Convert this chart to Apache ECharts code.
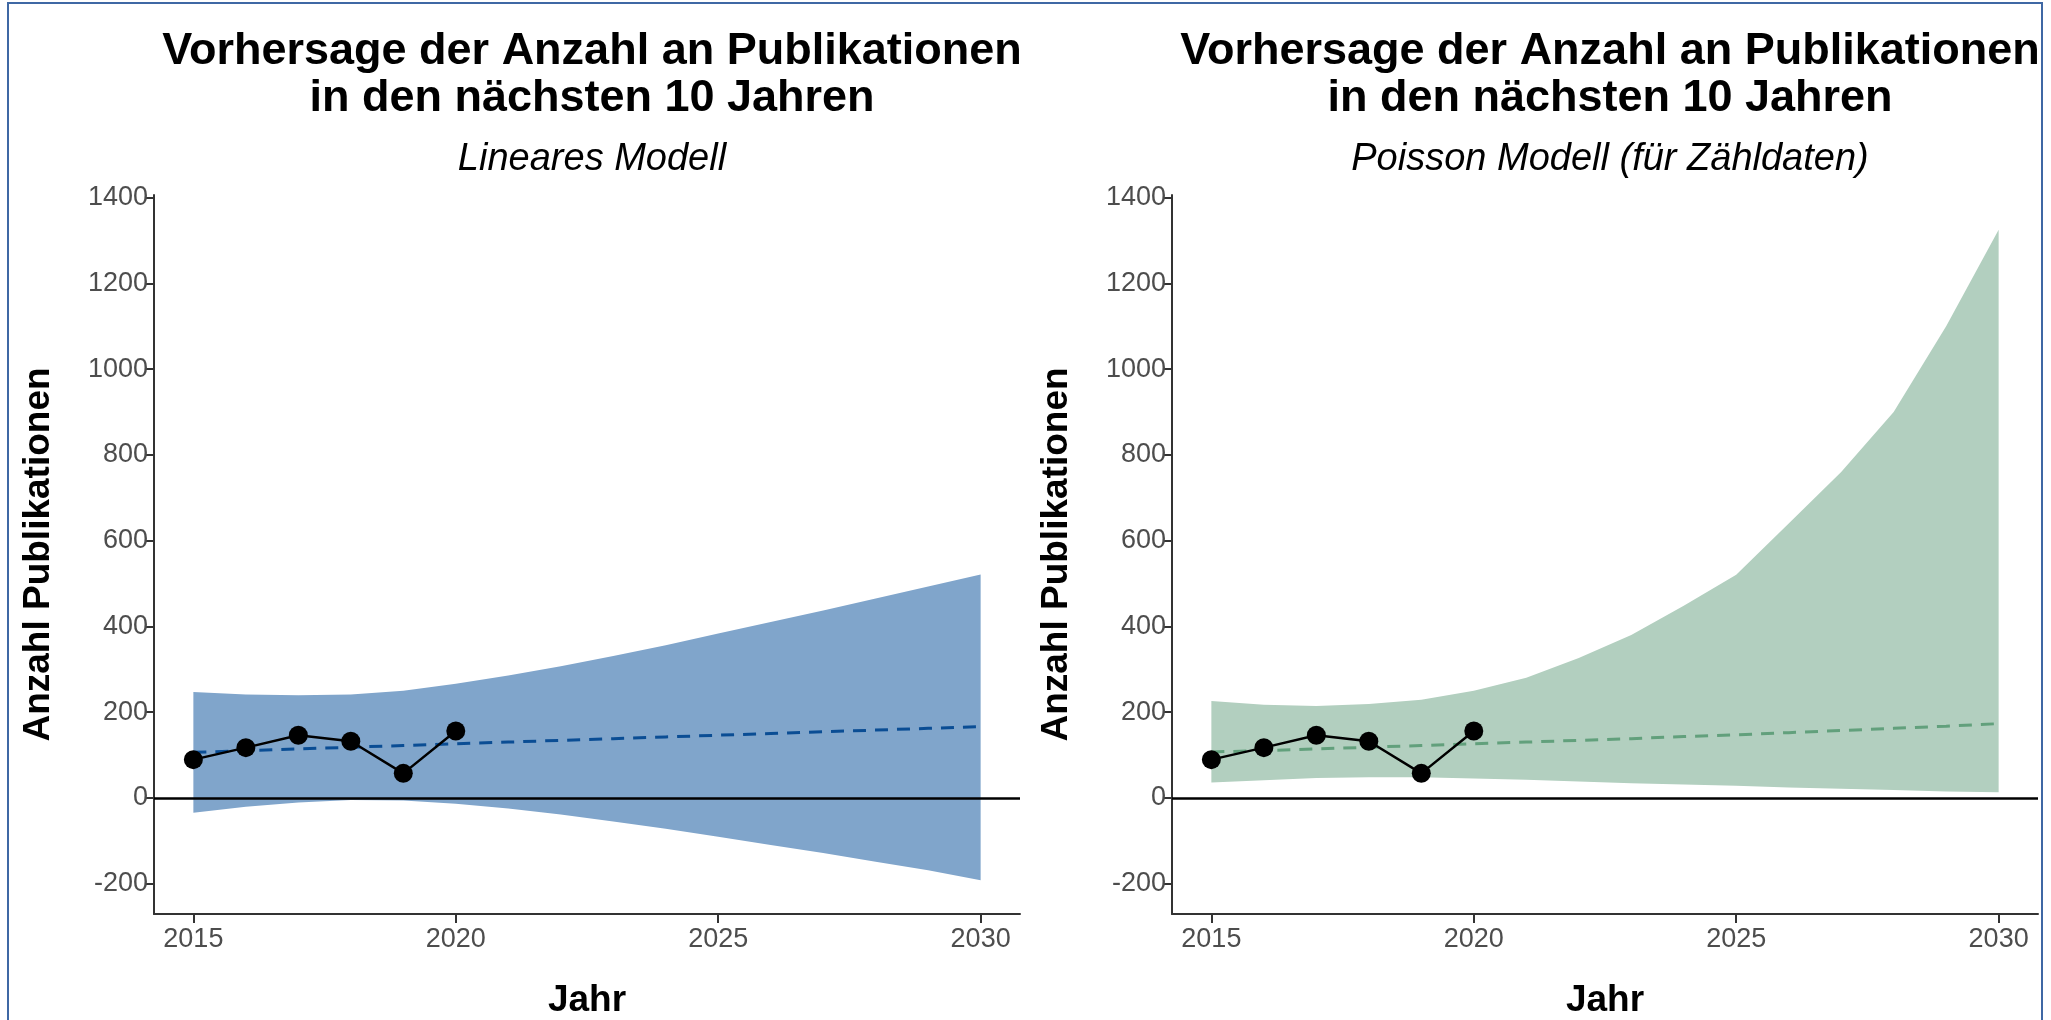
<!DOCTYPE html>
<html><head><meta charset="utf-8">
<script src="https://cdn.jsdelivr.net/npm/echarts@6/dist/echarts.min.js"></script>
<style>html,body{margin:0;padding:0;background:#fff}#c{width:2051px;height:1020px}</style>
</head><body><div id="c"></div>
<script>
// ---- data ----
const obsYears = [2015, 2016, 2017, 2018, 2019, 2020];
const obsValues = [89, 117, 146, 132, 57, 156];
const predYears = [2015,2016,2017,2018,2019,2020,2021,2022,2023,2024,2025,2026,2027,2028,2029,2030];
const linFit   = [106,110,114,118,122,126,130,134,138,142,146,150,154,158,162,166];
const linUpper = [247,241,239,241,250,266,285,307,331,356,383,410,437,465,493,521];
const linLower = [-35,-21,-11,-5,-6,-14,-25,-39,-55,-72,-91,-110,-129,-149,-169,-192];
const poisFit   = [107,110,114,118,122,126,130,134,138,143,147,152,157,162,167,173];
const poisUpper = [226,217,214,219,229,250,280,326,380,448,520,640,760,900,1100,1325];
const poisLower = [36,41,46,48,48,45,42,38,34,31,28,24,21,18,15,13];
const yTicks = [-200, 0, 200, 400, 600, 800, 1000, 1200, 1400];
const xTicks = [2015, 2020, 2025, 2030];
const titleText = 'Vorhersage der Anzahl an Publikationen\nin den nächsten 10 Jahren';
const subtitles = ['Lineares Modell', 'Poisson Modell (für Zähldaten)'];
const yName = 'Anzahl Publikationen';
const xName = 'Jahr';

const FONT = '"Liberation Sans", Arial, sans-serif';
const panels = [
  {left: 154, fit: linFit, up: linUpper, lo: linLower, band: '#80a5cb', dash: '#0a4d94'},
  {left: 1172, fit: poisFit, up: poisUpper, lo: poisLower, band: '#b2cfbf', dash: '#62a07c'}
];
const GW = 866, GT = 195, GH = 719;

const grids = [], xAxes = [], yAxes = [], series = [], titles = [];
panels.forEach((p, i) => {
  grids.push({left: p.left, top: GT, width: GW, height: GH, containLabel: false, outerBoundsMode: 'none'});
  xAxes.push({
    type: 'value', gridIndex: i, min: 2014.25, max: 2030.75,
    name: xName, nameLocation: 'middle', nameGap: 68,
    nameTextStyle: {fontFamily: FONT, fontWeight: 'bold', fontSize: 37, color: '#000'},
    axisLine: {show: true, onZero: false, lineStyle: {color: '#333', width: 2}},
    axisTick: {show: true, length: 9, customValues: xTicks, lineStyle: {color: '#333', width: 2}},
    axisLabel: {customValues: xTicks, formatter: v => String(v), fontFamily: FONT, fontSize: 27, color: '#4d4d4d', margin: 12},
    splitLine: {show: false}
  });
  yAxes.push({
    type: 'value', gridIndex: i, min: -271, max: 1406,
    name: yName, nameLocation: 'middle', nameGap: 97, nameRotate: 90,
    nameTextStyle: {fontFamily: FONT, fontWeight: 'bold', fontSize: 37, color: '#000'},
    axisLine: {show: true, onZero: false, lineStyle: {color: '#333', width: 2}},
    axisTick: {show: true, length: 9, customValues: yTicks, lineStyle: {color: '#333', width: 2}},
    axisLabel: {customValues: yTicks, formatter: v => String(v), fontFamily: FONT, fontSize: 27, color: '#4d4d4d', margin: 6},
    splitLine: {show: false}
  });
  titles.push({
    text: titleText, left: p.left + GW / 2, top: 23, textAlign: 'center',
    textStyle: {fontFamily: FONT, fontWeight: 'bold', fontSize: 45, color: '#000', lineHeight: 47}
  });
  titles.push({
    text: subtitles[i], left: p.left + GW / 2, top: 135, textAlign: 'center',
    textStyle: {fontFamily: FONT, fontStyle: 'italic', fontWeight: 'normal', fontSize: 38, color: '#000'}
  });
  // confidence band as polygon through the axis scales
  series.push({
    type: 'custom', xAxisIndex: i, yAxisIndex: i, z: 1,
    data: [[predYears[0], p.up[0]]],
    renderItem: function (params, api) {
      const pts = [];
      for (let k = 0; k < predYears.length; k++) pts.push(api.coord([predYears[k], p.up[k]]));
      for (let k = predYears.length - 1; k >= 0; k--) pts.push(api.coord([predYears[k], p.lo[k]]));
      return {type: 'polygon', shape: {points: pts}, style: {fill: p.band}};
    },
    silent: true
  });
  series.push({
    type: 'line', xAxisIndex: i, yAxisIndex: i, z: 3, symbol: 'none',
    data: predYears.map((y, k) => [y, p.fit[k]]),
    lineStyle: {color: p.dash, width: 3, type: [13, 9]},
    markLine: {
      silent: true, symbol: 'none', label: {show: false},
      lineStyle: {color: '#000', width: 2.5, type: 'solid'},
      data: [{yAxis: 0}]
    }
  });
  series.push({
    type: 'line', xAxisIndex: i, yAxisIndex: i, z: 5,
    data: obsYears.map((y, k) => [y, obsValues[k]]),
    symbol: 'circle', symbolSize: 19,
    itemStyle: {color: '#000'},
    lineStyle: {color: '#000', width: 2.5}
  });
});

const chart = echarts.init(document.getElementById('c'));
chart.setOption({
  animation: false,
  backgroundColor: '#fff',
  title: titles,
  grid: grids, xAxis: xAxes, yAxis: yAxes, series: series,
  graphic: [{
    type: 'rect', z: 100, silent: true,
    shape: {x: 8, y: 3, width: 2034, height: 1030},
    style: {fill: 'none', stroke: '#3f68a4', lineWidth: 2}
  }]
});
</script></body></html>
